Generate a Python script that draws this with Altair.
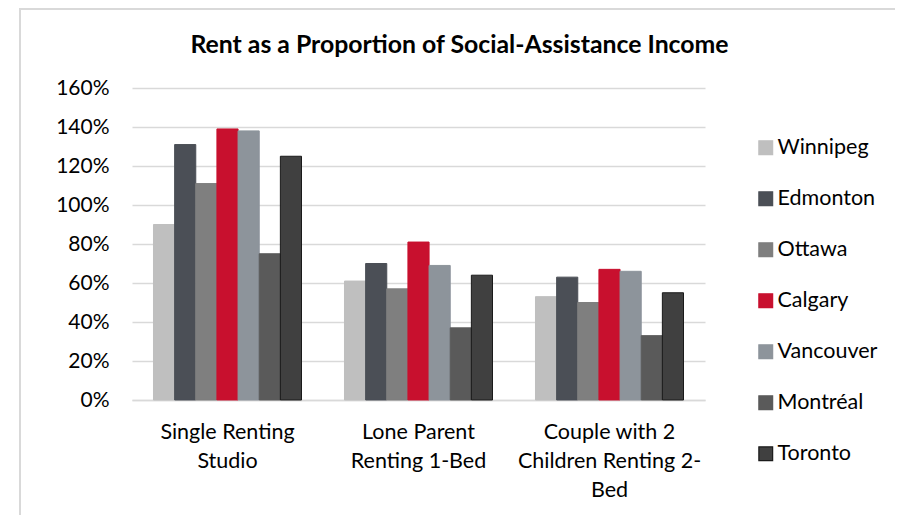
import altair as alt
import pandas as pd

categories = ["Single Renting|Studio", "Lone Parent|Renting 1-Bed", "Couple with 2|Children Renting 2-|Bed"]
cities = ["Winnipeg", "Edmonton", "Ottawa", "Calgary", "Vancouver", "Montréal", "Toronto"]
colors = ["#BFBFBF", "#4B4F56", "#7F7F7F", "#C8102E", "#8D949B", "#5A5A5A", "#404040"]
strokes = ["#BFBFBF", "#4B4F56", "#7F7F7F", "#C8102E", "#8D949B", "#5A5A5A", "#1A1A1A"]
single_studio = [0.90, 1.31, 1.11, 1.39, 1.38, 0.75, 1.25]
lone_parent = [0.61, 0.70, 0.57, 0.81, 0.69, 0.37, 0.64]
couple_two_children = [0.53, 0.63, 0.50, 0.67, 0.66, 0.33, 0.55]
title_text = "Rent as a Proportion of Social-Assistance Income"

rows = []
for cat, vals in zip(categories, [single_studio, lone_parent, couple_two_children]):
    for city, v in zip(cities, vals):
        rows.append({"category": cat, "city": city, "value": v})
df = pd.DataFrame(rows)

FONT = "Lato"

frame = alt.Chart(pd.DataFrame({"a": [0]})).mark_rect(
    fill=None, stroke="#D9D9D9", strokeWidth=2, clip=False
).encode(
    x=alt.value(-112), x2=alt.value(773), y=alt.value(-79), y2=alt.value(440)
)

title = alt.Chart(pd.DataFrame({"t": [title_text]})).mark_text(
    font=FONT, fontSize=24.8, fontWeight="bold", color="#000000",
    align="center", baseline="middle"
).encode(text="t:N", x=alt.value(327.5), y=alt.value(-42))

bars = alt.Chart(df).mark_bar(strokeWidth=1).encode(
    x=alt.X("category:N", sort=categories, title=None,
            scale=alt.Scale(paddingInner=0.225, paddingOuter=0.1125),
            axis=alt.Axis(labelExpr="split(datum.label, '|')", labelAngle=0,
                          labelFontSize=21.5, labelLineHeight=29, labelPadding=21,
                          labelLimit=400,
                          labelColor="#000000", labelFont=FONT, ticks=False,
                          domainColor="#D9D9D9", domainWidth=1.5, grid=False)),
    xOffset=alt.XOffset("city:N", sort=cities, scale=alt.Scale(paddingInner=0, paddingOuter=0)),
    y=alt.Y("value:Q", title=None,
            scale=alt.Scale(domain=[0, 1.6], nice=False),
            axis=alt.Axis(format="%", values=[0, 0.2, 0.4, 0.6, 0.8, 1.0, 1.2, 1.4, 1.6],
                          labelFontSize=21, labelColor="#000000", labelFont=FONT,
                          labelPadding=23, ticks=False, domain=False,
                          gridColor="#D9D9D9", gridWidth=1.5)),
    fill=alt.Fill("city:N", sort=cities, title=None,
                  scale=alt.Scale(domain=cities, range=colors),
                  legend=alt.Legend(orient="none", legendX=623, legendY=49,
                                    labelFontSize=21.5, labelFont=FONT, labelColor="#000000",
                                    symbolType="square", symbolSize=190, rowPadding=28,
                                    labelOffset=1, symbolStrokeWidth=1.2)),
    stroke=alt.Stroke("city:N", sort=cities, title=None,
                      scale=alt.Scale(domain=cities, range=strokes)),
)

chart = alt.layer(frame, title, bars).properties(
    width=573, height=312,
    background="white",
    autosize=alt.AutoSizeParams(type="none"),
    padding={"left": 124, "top": 80, "right": 190, "bottom": 115},
).configure_view(stroke="transparent", strokeWidth=0)

chart.save("out.html", embed_options={"renderer": "svg", "actions": False})
